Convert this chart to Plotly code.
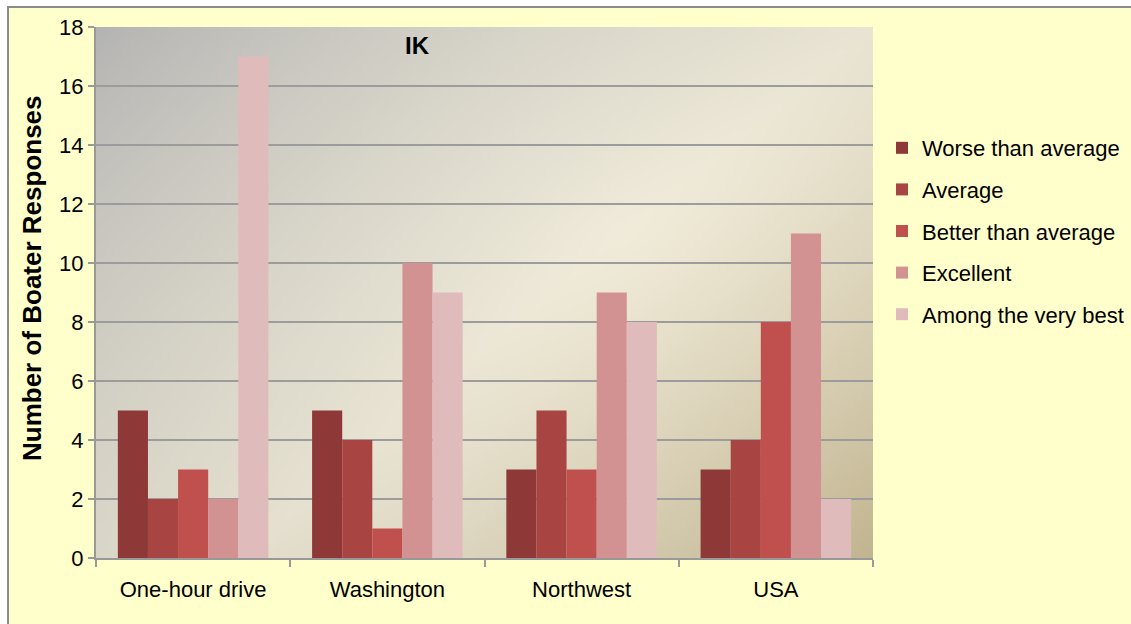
import base64
import struct
import zlib

import numpy as np
import plotly.graph_objects as go

# Survey responses per region
regions = ["One-hour drive", "Washington", "Northwest", "USA"]
series_names = [
    "Worse than average",
    "Average",
    "Better than average",
    "Excellent",
    "Among the very best",
]
worse_than_average = [5, 5, 3, 3]
average = [2, 4, 5, 4]
better_than_average = [3, 1, 3, 8]
excellent = [2, 10, 9, 11]
among_the_very_best = [17, 9, 8, 2]
series_values = [
    worse_than_average,
    average,
    better_than_average,
    excellent,
    among_the_very_best,
]
series_colors = ["#8E3837", "#A84543", "#C0504D", "#D39292", "#E0BBBB"]
y_ticks = [0, 2, 4, 6, 8, 10, 12, 14, 16, 18]

FONT = "Liberation Sans, Arial, sans-serif"
W, H = 1131, 624
M_L, M_R, M_T, M_B = 96, 258, 27, 66
PW, PH = W - M_L - M_R, H - M_T - M_B


def px_x(px):
    return (px - M_L) / PW


def px_y(py):
    return (H - M_B - py) / PH


def gradient_png(w=220, h=150):
    """Parchment-style diagonal fill for the plotting area."""
    u = np.linspace(0, 1, w)[None, :]
    v = np.linspace(0, 1, h)[:, None]
    t = 0.55 * u + 0.45 * v
    gray = np.array([190, 190, 189], float)
    light = np.array([241, 236, 218], float)
    tan = np.array([204, 190, 152], float)
    a = np.clip(t / 0.55, 0, 1)[..., None]
    b = np.clip((t - 0.55) / 0.45, 0, 1)[..., None]
    col = np.where((t < 0.55)[..., None],
                   gray + (light - gray) * a ** 0.8,
                   light + (tan - light) * b ** 1.2)
    d = np.sqrt((u - 0.68) ** 2 + (v - 0.38) ** 2)[..., None]
    col = col * (1 - 0.07 * d)
    img = np.clip(col, 0, 255).astype(np.uint8)
    raw = b"".join(b"\x00" + img[r].tobytes() for r in range(h))

    def chunk(tag, data):
        c = struct.pack(">I", len(data)) + tag + data
        return c + struct.pack(">I", zlib.crc32(tag + data) & 0xFFFFFFFF)

    png = b"\x89PNG\r\n\x1a\n"
    png += chunk(b"IHDR", struct.pack(">IIBBBBB", w, h, 8, 2, 0, 0, 0))
    png += chunk(b"IDAT", zlib.compress(raw, 9))
    png += chunk(b"IEND", b"")
    return "data:image/png;base64," + base64.b64encode(png).decode()


fig = go.Figure()
for name, vals, color in zip(series_names, series_values, series_colors):
    fig.add_trace(go.Bar(
        x=regions, y=vals, name=name, legendgroup=name,
        marker=dict(color=color, line=dict(width=0)),
        hoverinfo="x+y+name",
    ))

fig.update_layout(
    width=W, height=H,
    margin=dict(l=M_L, r=M_R, t=M_T, b=M_B, pad=0, autoexpand=False),
    paper_bgcolor="#FFFFCC",
    plot_bgcolor="rgba(0,0,0,0)",
    barmode="group",
    bargap=0.225,
    bargroupgap=0,
    font=dict(family=FONT, size=22, color="#000000"),
    showlegend=True,
    legend=dict(
        x=px_x(882), y=px_y(127), xanchor="left", yanchor="top",
        bgcolor="rgba(0,0,0,0)",
        font=dict(family=FONT, size=22, color="#000000"),
        tracegroupgap=10,
        traceorder="grouped",
    ),
    xaxis=dict(
        showgrid=False,
        showline=True, linecolor="#999999", linewidth=2,
        ticks="outside", tickson="boundaries", ticklen=7,
        tickcolor="#999999", tickwidth=2,
        tickfont=dict(family=FONT, size=22, color="#000000"),
        ticklabelstandoff=11,
    ),
    yaxis=dict(
        range=[0, 18],
        tickvals=y_ticks,
        showgrid=True, gridcolor="#9C9C9C", gridwidth=1.5,
        zeroline=False,
        showline=True, linecolor="#999999", linewidth=2,
        ticks="outside", ticklen=6, tickcolor="#999999", tickwidth=2,
        tickfont=dict(family=FONT, size=22, color="#000000"),
    ),
    images=[dict(
        source=gradient_png(), xref="paper", yref="paper",
        x=0, y=1, sizex=1, sizey=1, sizing="stretch",
        xanchor="left", yanchor="top", layer="below",
    )],
    shapes=[
        dict(type="rect", xref="paper", yref="paper", layer="below",
             x0=px_x(-5), x1=px_x(W + 5), y0=px_y(7), y1=px_y(-5),
             fillcolor="#FFFFFF", line=dict(width=0)),
        dict(type="rect", xref="paper", yref="paper", layer="below",
             x0=px_x(-5), x1=px_x(8), y0=px_y(H + 5), y1=px_y(-5),
             fillcolor="#FFFFFF", line=dict(width=0)),
        dict(type="rect", xref="paper", yref="paper", layer="below",
             x0=px_x(8), x1=px_x(W + 20), y0=px_y(H + 20), y1=px_y(7),
             fillcolor="rgba(0,0,0,0)", line=dict(color="#8C8C8C", width=2)),
    ],
    annotations=[
        dict(text="<b>IK</b>", xref="paper", yref="paper",
             x=px_x(417), y=px_y(45), xanchor="center", yanchor="middle",
             showarrow=False,
             font=dict(family=FONT, size=24, color="#000000")),
        dict(text="<b>Number of Boater Responses</b>",
             xref="paper", yref="paper",
             x=px_x(32), y=px_y(278), xanchor="center", yanchor="middle",
             textangle=-90, showarrow=False,
             font=dict(family=FONT, size=26, color="#000000")),
    ],
)

fig.write_html("out.html")
